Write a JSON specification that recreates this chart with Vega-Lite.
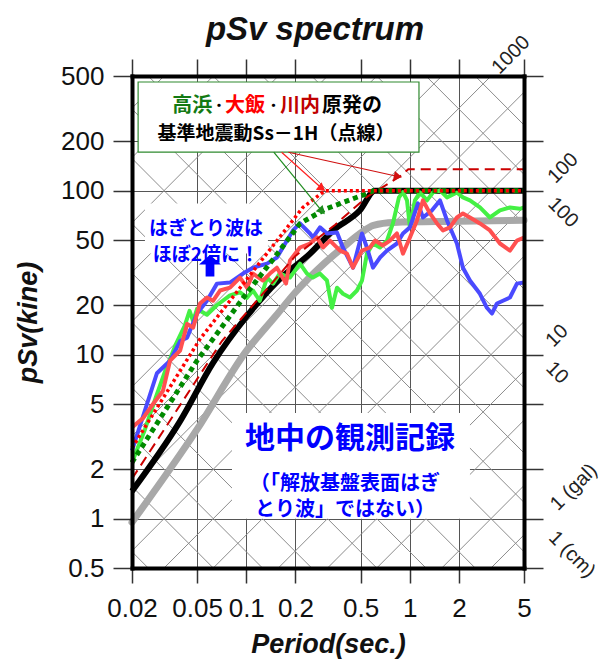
{
  "$schema": "https://vega.github.io/schema/vega-lite/v6.json",
  "width": 392,
  "height": 492,
  "autosize": {"type": "none"},
  "padding": {"left": 132, "top": 76, "right": 88, "bottom": 93},
  "background": "white",
  "title": {
    "text": "pSv spectrum",
    "font": "Liberation Sans",
    "fontSize": 33,
    "fontWeight": "bold",
    "fontStyle": "italic",
    "color": "#111111",
    "anchor": "middle",
    "dx": -13,
    "offset": -15
  },
  "config": {
    "view": {"stroke": null},
    "axis": {"labelFont": "Liberation Sans", "titleFont": "Liberation Sans"}
  },
  "datasets": {
    "diagonals": [
      {"family": "cm", "level": 0.002, "T1": 0.01, "Sv1": 1.2566, "T2": 10, "Sv2": 0.0012566},
      {"family": "cm", "level": 0.005, "T1": 0.01, "Sv1": 3.1416, "T2": 10, "Sv2": 0.0031416},
      {"family": "cm", "level": 0.01, "T1": 0.01, "Sv1": 6.2832, "T2": 10, "Sv2": 0.0062832},
      {"family": "cm", "level": 0.02, "T1": 0.01, "Sv1": 12.566, "T2": 10, "Sv2": 0.012566},
      {"family": "cm", "level": 0.05, "T1": 0.01, "Sv1": 31.416, "T2": 10, "Sv2": 0.031416},
      {"family": "cm", "level": 0.1, "T1": 0.01, "Sv1": 62.832, "T2": 10, "Sv2": 0.062832},
      {"family": "cm", "level": 0.2, "T1": 0.01, "Sv1": 125.66, "T2": 10, "Sv2": 0.12566},
      {"family": "cm", "level": 0.5, "T1": 0.01, "Sv1": 314.16, "T2": 10, "Sv2": 0.31416},
      {"family": "cm", "level": 1, "T1": 0.01, "Sv1": 628.32, "T2": 10, "Sv2": 0.62832},
      {"family": "cm", "level": 2, "T1": 0.01, "Sv1": 1256.6, "T2": 10, "Sv2": 1.2566},
      {"family": "cm", "level": 5, "T1": 0.01, "Sv1": 3141.6, "T2": 10, "Sv2": 3.1416},
      {"family": "cm", "level": 10, "T1": 0.01, "Sv1": 6283.2, "T2": 10, "Sv2": 6.2832},
      {"family": "cm", "level": 20, "T1": 0.01, "Sv1": 12566, "T2": 10, "Sv2": 12.566},
      {"family": "cm", "level": 50, "T1": 0.01, "Sv1": 31416, "T2": 10, "Sv2": 31.416},
      {"family": "cm", "level": 100, "T1": 0.01, "Sv1": 62832, "T2": 10, "Sv2": 62.832},
      {"family": "cm", "level": 200, "T1": 0.01, "Sv1": 125664, "T2": 10, "Sv2": 125.66},
      {"family": "gal", "level": 1, "T1": 0.01, "Sv1": 0.0015915, "T2": 10, "Sv2": 1.5915},
      {"family": "gal", "level": 2, "T1": 0.01, "Sv1": 0.003183, "T2": 10, "Sv2": 3.183},
      {"family": "gal", "level": 5, "T1": 0.01, "Sv1": 0.0079577, "T2": 10, "Sv2": 7.9577},
      {"family": "gal", "level": 10, "T1": 0.01, "Sv1": 0.015915, "T2": 10, "Sv2": 15.915},
      {"family": "gal", "level": 20, "T1": 0.01, "Sv1": 0.03183, "T2": 10, "Sv2": 31.831},
      {"family": "gal", "level": 50, "T1": 0.01, "Sv1": 0.079577, "T2": 10, "Sv2": 79.577},
      {"family": "gal", "level": 100, "T1": 0.01, "Sv1": 0.15915, "T2": 10, "Sv2": 159.15},
      {"family": "gal", "level": 200, "T1": 0.01, "Sv1": 0.3183, "T2": 10, "Sv2": 318.31},
      {"family": "gal", "level": 500, "T1": 0.01, "Sv1": 0.79577, "T2": 10, "Sv2": 795.77},
      {"family": "gal", "level": 1000, "T1": 0.01, "Sv1": 1.5915, "T2": 10, "Sv2": 1591.5},
      {"family": "gal", "level": 2000, "T1": 0.01, "Sv1": 3.1831, "T2": 10, "Sv2": 3183.1},
      {"family": "gal", "level": 5000, "T1": 0.01, "Sv1": 7.9577, "T2": 10, "Sv2": 7957.7},
      {"family": "gal", "level": 10000, "T1": 0.01, "Sv1": 15.915, "T2": 10, "Sv2": 15915},
      {"family": "gal", "level": 20000, "T1": 0.01, "Sv1": 31.831, "T2": 10, "Sv2": 31831},
      {"family": "gal", "level": 50000, "T1": 0.01, "Sv1": 79.577, "T2": 10, "Sv2": 79577},
      {"family": "gal", "level": 100000, "T1": 0.01, "Sv1": 159.15, "T2": 10, "Sv2": 159155}
    ],
    "spectra": [
      {"series": "gray", "T": 0.02, "Sv": 0.95},
      {"series": "gray", "T": 0.05, "Sv": 3.5},
      {"series": "gray", "T": 0.1, "Sv": 10.5},
      {"series": "gray", "T": 0.15, "Sv": 17},
      {"series": "gray", "T": 0.2, "Sv": 24},
      {"series": "gray", "T": 0.3, "Sv": 36},
      {"series": "gray", "T": 0.4, "Sv": 46},
      {"series": "gray", "T": 0.5, "Sv": 55},
      {"series": "gray", "T": 0.6, "Sv": 61.5},
      {"series": "gray", "T": 0.8, "Sv": 64},
      {"series": "gray", "T": 2, "Sv": 65},
      {"series": "gray", "T": 5, "Sv": 66},
      {"series": "black", "T": 0.02, "Sv": 1.47},
      {"series": "black", "T": 0.0394, "Sv": 3.93},
      {"series": "black", "T": 0.0626, "Sv": 8.9},
      {"series": "black", "T": 0.101, "Sv": 17.2},
      {"series": "black", "T": 0.154, "Sv": 27.8},
      {"series": "black", "T": 0.2454, "Sv": 41.3},
      {"series": "black", "T": 0.339, "Sv": 57.2},
      {"series": "black", "T": 0.496, "Sv": 75.8},
      {"series": "black", "T": 0.613, "Sv": 100},
      {"series": "black", "T": 5, "Sv": 100},
      {"series": "green", "T": 0.02, "Sv": 2.2},
      {"series": "green", "T": 0.024, "Sv": 3.5},
      {"series": "green", "T": 0.028, "Sv": 5.5},
      {"series": "green", "T": 0.032, "Sv": 8},
      {"series": "green", "T": 0.037, "Sv": 11.5},
      {"series": "green", "T": 0.042, "Sv": 15},
      {"series": "green", "T": 0.045, "Sv": 18.5},
      {"series": "green", "T": 0.0473, "Sv": 16},
      {"series": "green", "T": 0.05, "Sv": 19},
      {"series": "green", "T": 0.0575, "Sv": 17.5},
      {"series": "green", "T": 0.066, "Sv": 20},
      {"series": "green", "T": 0.0795, "Sv": 23},
      {"series": "green", "T": 0.0916, "Sv": 24},
      {"series": "green", "T": 0.101, "Sv": 22.2},
      {"series": "green", "T": 0.11, "Sv": 24.6},
      {"series": "green", "T": 0.121, "Sv": 21.3},
      {"series": "green", "T": 0.134, "Sv": 29.5},
      {"series": "green", "T": 0.146, "Sv": 27.1},
      {"series": "green", "T": 0.16, "Sv": 31.2},
      {"series": "green", "T": 0.185, "Sv": 29.5},
      {"series": "green", "T": 0.2131, "Sv": 35.9},
      {"series": "green", "T": 0.2352, "Sv": 31.2},
      {"series": "green", "T": 0.2558, "Sv": 29.5},
      {"series": "green", "T": 0.2824, "Sv": 31.2},
      {"series": "green", "T": 0.3116, "Sv": 28.3},
      {"series": "green", "T": 0.3345, "Sv": 19.3},
      {"series": "green", "T": 0.3589, "Sv": 25.6},
      {"series": "green", "T": 0.3905, "Sv": 23.5},
      {"series": "green", "T": 0.4309, "Sv": 22.3},
      {"series": "green", "T": 0.4755, "Sv": 24.6},
      {"series": "green", "T": 0.5103, "Sv": 28.3},
      {"series": "green", "T": 0.5476, "Sv": 41.3},
      {"series": "green", "T": 0.5958, "Sv": 47.6},
      {"series": "green", "T": 0.6575, "Sv": 45},
      {"series": "green", "T": 0.7256, "Sv": 49.6},
      {"series": "green", "T": 0.789, "Sv": 63.1},
      {"series": "green", "T": 0.859, "Sv": 91},
      {"series": "green", "T": 0.909, "Sv": 98},
      {"series": "green", "T": 0.962, "Sv": 87.2},
      {"series": "green", "T": 1.003, "Sv": 59.7},
      {"series": "green", "T": 1.076, "Sv": 87.2},
      {"series": "green", "T": 1.155, "Sv": 97.5},
      {"series": "green", "T": 1.275, "Sv": 87.2},
      {"series": "green", "T": 1.387, "Sv": 97.5},
      {"series": "green", "T": 1.531, "Sv": 100.4},
      {"series": "green", "T": 1.69, "Sv": 91},
      {"series": "green", "T": 1.944, "Sv": 97.5},
      {"series": "green", "T": 2.115, "Sv": 91},
      {"series": "green", "T": 2.335, "Sv": 87.2},
      {"series": "green", "T": 2.688, "Sv": 79},
      {"series": "green", "T": 3.095, "Sv": 68.6},
      {"series": "green", "T": 3.563, "Sv": 75.8},
      {"series": "green", "T": 4.102, "Sv": 79},
      {"series": "green", "T": 4.722, "Sv": 77.5},
      {"series": "green", "T": 5, "Sv": 79},
      {"series": "blue", "T": 0.02, "Sv": 2.6},
      {"series": "blue", "T": 0.0284, "Sv": 7.7},
      {"series": "blue", "T": 0.0342, "Sv": 9.2},
      {"series": "blue", "T": 0.0394, "Sv": 12.1},
      {"series": "blue", "T": 0.0435, "Sv": 12.7},
      {"series": "blue", "T": 0.05, "Sv": 17.8},
      {"series": "blue", "T": 0.0575, "Sv": 21.3},
      {"series": "blue", "T": 0.0662, "Sv": 27.1},
      {"series": "blue", "T": 0.0795, "Sv": 27.5},
      {"series": "blue", "T": 0.0955, "Sv": 31.2},
      {"series": "blue", "T": 0.11, "Sv": 33.9},
      {"series": "blue", "T": 0.134, "Sv": 35.9},
      {"series": "blue", "T": 0.154, "Sv": 39.1},
      {"series": "blue", "T": 0.1775, "Sv": 49.6},
      {"series": "blue", "T": 0.193, "Sv": 57.2},
      {"series": "blue", "T": 0.213, "Sv": 63.1},
      {"series": "blue", "T": 0.2454, "Sv": 54.8},
      {"series": "blue", "T": 0.256, "Sv": 51.8},
      {"series": "blue", "T": 0.2824, "Sv": 59.7},
      {"series": "blue", "T": 0.3116, "Sv": 54.8},
      {"series": "blue", "T": 0.359, "Sv": 55.6},
      {"series": "blue", "T": 0.39, "Sv": 45},
      {"series": "blue", "T": 0.45, "Sv": 33.9},
      {"series": "blue", "T": 0.51, "Sv": 54.8},
      {"series": "blue", "T": 0.547, "Sv": 45},
      {"series": "blue", "T": 0.596, "Sv": 33.9},
      {"series": "blue", "T": 0.6575, "Sv": 39.1},
      {"series": "blue", "T": 0.7256, "Sv": 43.1},
      {"series": "blue", "T": 0.835, "Sv": 47.6},
      {"series": "blue", "T": 0.909, "Sv": 54.8},
      {"series": "blue", "T": 1.003, "Sv": 59.7},
      {"series": "blue", "T": 1.122, "Sv": 83.6},
      {"series": "blue", "T": 1.205, "Sv": 68.6},
      {"series": "blue", "T": 1.368, "Sv": 75.8},
      {"series": "blue", "T": 1.531, "Sv": 87.2},
      {"series": "blue", "T": 1.69, "Sv": 65.8},
      {"series": "blue", "T": 1.944, "Sv": 47.6},
      {"series": "blue", "T": 2.115, "Sv": 33.9},
      {"series": "blue", "T": 2.335, "Sv": 28.3},
      {"series": "blue", "T": 2.688, "Sv": 23.5},
      {"series": "blue", "T": 2.966, "Sv": 19.3},
      {"series": "blue", "T": 3.183, "Sv": 17.8},
      {"series": "blue", "T": 3.415, "Sv": 20.5},
      {"series": "blue", "T": 3.717, "Sv": 21.3},
      {"series": "blue", "T": 4.102, "Sv": 22.3},
      {"series": "blue", "T": 4.527, "Sv": 27.1},
      {"series": "blue", "T": 5, "Sv": 27.5},
      {"series": "red", "T": 0.02, "Sv": 3.6},
      {"series": "red", "T": 0.0234, "Sv": 4.1},
      {"series": "red", "T": 0.0269, "Sv": 5},
      {"series": "red", "T": 0.0309, "Sv": 6},
      {"series": "red", "T": 0.0342, "Sv": 9.2},
      {"series": "red", "T": 0.0394, "Sv": 10.6},
      {"series": "red", "T": 0.0435, "Sv": 15.4},
      {"series": "red", "T": 0.0473, "Sv": 14.6},
      {"series": "red", "T": 0.0521, "Sv": 20.5},
      {"series": "red", "T": 0.0575, "Sv": 22.3},
      {"series": "red", "T": 0.0626, "Sv": 21.3},
      {"series": "red", "T": 0.0691, "Sv": 24.6},
      {"series": "red", "T": 0.0795, "Sv": 25.6},
      {"series": "red", "T": 0.0916, "Sv": 29.5},
      {"series": "red", "T": 0.101, "Sv": 25.6},
      {"series": "red", "T": 0.11, "Sv": 31.2},
      {"series": "red", "T": 0.1266, "Sv": 28.3},
      {"series": "red", "T": 0.1396, "Sv": 31.2},
      {"series": "red", "T": 0.154, "Sv": 33.9},
      {"series": "red", "T": 0.175, "Sv": 27.1},
      {"series": "red", "T": 0.1851, "Sv": 37.5},
      {"series": "red", "T": 0.2131, "Sv": 45},
      {"series": "red", "T": 0.2454, "Sv": 47.6},
      {"series": "red", "T": 0.2708, "Sv": 51.8},
      {"series": "red", "T": 0.2946, "Sv": 45},
      {"series": "red", "T": 0.3252, "Sv": 49.6},
      {"series": "red", "T": 0.3744, "Sv": 43.1},
      {"series": "red", "T": 0.413, "Sv": 41.3},
      {"series": "red", "T": 0.4495, "Sv": 33.9},
      {"series": "red", "T": 0.5103, "Sv": 43.1},
      {"series": "red", "T": 0.5712, "Sv": 45},
      {"series": "red", "T": 0.6128, "Sv": 49.6},
      {"series": "red", "T": 0.686, "Sv": 46.3},
      {"series": "red", "T": 0.7568, "Sv": 49.6},
      {"series": "red", "T": 0.835, "Sv": 54.8},
      {"series": "red", "T": 0.8713, "Sv": 47.6},
      {"series": "red", "T": 0.909, "Sv": 41.3},
      {"series": "red", "T": 1.003, "Sv": 51.8},
      {"series": "red", "T": 1.107, "Sv": 65.8},
      {"series": "red", "T": 1.205, "Sv": 87.2},
      {"series": "red", "T": 1.33, "Sv": 72.6},
      {"series": "red", "T": 1.468, "Sv": 63.1},
      {"series": "red", "T": 1.597, "Sv": 57.2},
      {"series": "red", "T": 1.762, "Sv": 59.7},
      {"series": "red", "T": 1.944, "Sv": 68.6},
      {"series": "red", "T": 2.115, "Sv": 72.6},
      {"series": "red", "T": 2.335, "Sv": 68.6},
      {"series": "red", "T": 2.688, "Sv": 63.1},
      {"series": "red", "T": 3.095, "Sv": 57.2},
      {"series": "red", "T": 3.563, "Sv": 47.6},
      {"series": "red", "T": 4.102, "Sv": 43.1},
      {"series": "red", "T": 4.527, "Sv": 49.6},
      {"series": "red", "T": 5, "Sv": 51.8}
    ],
    "design": [
      {"site": "Sendai", "T": 0.02, "Sv": 1.75},
      {"site": "Sendai", "T": 0.071, "Sv": 12.1},
      {"site": "Sendai", "T": 0.2, "Sv": 40},
      {"site": "Sendai", "T": 0.35, "Sv": 62},
      {"site": "Sendai", "T": 0.55, "Sv": 92},
      {"site": "Sendai", "T": 0.87, "Sv": 122},
      {"site": "Sendai", "T": 0.98, "Sv": 135},
      {"site": "Sendai", "T": 5, "Sv": 135},
      {"site": "Takahama", "T": 0.02, "Sv": 2.2},
      {"site": "Takahama", "T": 0.05, "Sv": 9.2},
      {"site": "Takahama", "T": 0.1, "Sv": 23.5},
      {"site": "Takahama", "T": 0.15, "Sv": 39.5},
      {"site": "Takahama", "T": 0.213, "Sv": 63},
      {"site": "Takahama", "T": 0.303, "Sv": 77},
      {"site": "Takahama", "T": 0.547, "Sv": 96},
      {"site": "Takahama", "T": 0.6, "Sv": 100},
      {"site": "Takahama", "T": 5, "Sv": 100},
      {"site": "Ohi", "T": 0.02, "Sv": 2.7},
      {"site": "Ohi", "T": 0.052, "Sv": 12.4},
      {"site": "Ohi", "T": 0.222, "Sv": 79},
      {"site": "Ohi", "T": 0.303, "Sv": 100},
      {"site": "Ohi", "T": 5, "Sv": 100}
    ],
    "panels": [
      {"panel": "legend", "T1": 0.0218, "Sv1": 459.6, "T2": 1.139, "Sv2": 171.5},
      {"panel": "note", "T1": 0.0818, "Sv1": 4.4, "T2": 2.335, "Sv2": 1.0},
      {"panel": "callout", "T1": 0.024, "Sv1": 83.6, "T2": 0.1357, "Sv2": 41.3}
    ],
    "pointers": [
      {"site": "Takahama", "T1": 0.1473, "Sv1": 171.5, "T2": 0.2905, "Sv2": 75},
      {"site": "Ohi", "T1": 0.1645, "Sv1": 171.5, "T2": 0.2905, "Sv2": 103},
      {"site": "Sendai", "T1": 0.181, "Sv1": 171.5, "T2": 0.847, "Sv2": 122}
    ],
    "siteWords": [
      {"text": "高浜", "tone": "Takahama", "T": 0.0352, "Sv": 330},
      {"text": "大飯", "tone": "Ohi", "T": 0.0741, "Sv": 330},
      {"text": "川内", "tone": "Sendai", "T": 0.1608, "Sv": 330},
      {"text": "原発の", "tone": "plain", "T": 0.2905, "Sv": 330}
    ],
    "siteDots": [
      {"text": "・", "T": 0.0681, "Sv": 330},
      {"text": "・", "T": 0.1467, "Sv": 330}
    ],
    "scaleLabels": [
      {"text": "1000", "family": "gal", "T": 4.16, "Sv": 672},
      {"text": "100", "family": "gal", "T": 8.66, "Sv": 136.9},
      {"text": "100", "family": "cm", "T": 8.66, "Sv": 73.6},
      {"text": "10", "family": "gal", "T": 7.96, "Sv": 13.03},
      {"text": "10", "family": "cm", "T": 7.96, "Sv": 7.74},
      {"text": "1 (gal)", "family": "gal", "T": 10.1, "Sv": 1.553},
      {"text": "1 (cm)", "family": "cm", "T": 9.83, "Sv": 0.605}
    ]
  },
  "resolve": {"axis": {"x": "independent", "y": "independent"}, "scale": {"color": "independent"}},
  "layer": [
    {
      "data": {"name": "diagonals"},
      "mark": {"type": "rule", "clip": true, "color": "#8c8c8c", "strokeWidth": 1},
      "encoding": {
        "x": {"field": "T1", "type": "quantitative",
          "scale": {"type": "log", "domain": [0.02, 5], "nice": false},
          "axis": {"orient": "bottom", "values": [0.02, 0.05, 0.1, 0.2, 0.5, 1, 2, 5], "grid": true, "gridColor": "#555555", "gridWidth": 1, "domain": false, "ticks": false, "labels": false, "title": null, "zindex": 0}},
        "y": {"field": "Sv1", "type": "quantitative",
          "scale": {"type": "log", "domain": [0.5, 500], "nice": false},
          "axis": {"orient": "left", "values": [0.5, 1, 2, 5, 10, 20, 50, 100, 200, 500], "grid": true, "gridColor": "#555555", "gridWidth": 1, "domain": false, "ticks": false, "labels": false, "title": null, "zindex": 0}},
        "x2": {"field": "T2"},
        "y2": {"field": "Sv2"}
      }
    },
    {
      "data": {"name": "panels"},
      "transform": [{"filter": "datum.panel === 'legend'"}],
      "mark": {"type": "rect", "fill": "white", "stroke": "#2f8a2f", "strokeWidth": 1.2},
      "encoding": {
        "x": {"field": "T1", "type": "quantitative", "scale": {"type": "log", "domain": [0.02, 5], "nice": false}, "axis": null},
        "x2": {"field": "T2"},
        "y": {"field": "Sv1", "type": "quantitative", "scale": {"type": "log", "domain": [0.5, 500], "nice": false}, "axis": null},
        "y2": {"field": "Sv2"}
      }
    },
    {
      "data": {"name": "panels"},
      "transform": [{"filter": "datum.panel !== 'legend'"}],
      "mark": {"type": "rect", "fill": "white"},
      "encoding": {
        "x": {"field": "T1", "type": "quantitative", "scale": {"type": "log", "domain": [0.02, 5], "nice": false}, "axis": null},
        "x2": {"field": "T2"},
        "y": {"field": "Sv1", "type": "quantitative", "scale": {"type": "log", "domain": [0.5, 500], "nice": false}, "axis": null},
        "y2": {"field": "Sv2"}
      }
    },
    {
      "data": {"name": "spectra"},
      "transform": [{"filter": "datum.series === 'gray'"}],
      "mark": {"type": "line", "color": "#a8a8a8", "strokeWidth": 7, "strokeJoin": "round", "strokeCap": "round", "interpolate": "monotone"},
      "encoding": {
        "x": {"field": "T", "type": "quantitative", "scale": {"type": "log", "domain": [0.02, 5], "nice": false},
          "axis": {"orient": "bottom", "values": [0.02, 0.05, 0.1, 0.2, 0.5, 1, 2, 5], "format": "~g", "grid": false, "domain": true, "domainColor": "#000000", "domainWidth": 4, "domainCap": "square", "ticks": true, "tickSize": 15, "tickWidth": 1.5, "tickColor": "#333333", "labelFontSize": 26, "labelColor": "#111111", "labelPadding": 12, "labelOverlap": false, "labelFlush": false, "labelBound": false, "title": "Period(sec.)", "titleFontSize": 27, "titleFontWeight": "bold", "titleFontStyle": "italic", "titleColor": "#111111", "titlePadding": 10, "zindex": 1}},
        "y": {"field": "Sv", "type": "quantitative", "scale": {"type": "log", "domain": [0.5, 500], "nice": false},
          "axis": {"orient": "left", "values": [0.5, 1, 2, 5, 10, 20, 50, 100, 200, 500], "format": "~g", "grid": false, "domain": true, "domainColor": "#000000", "domainWidth": 4, "domainCap": "square", "ticks": true, "tickSize": 19, "tickWidth": 1.5, "tickColor": "#333333", "labelFontSize": 26, "labelColor": "#111111", "labelPadding": 9, "labelOverlap": false, "labelFlush": false, "labelBound": false, "title": "pSv(kine)", "titleFontSize": 27, "titleFontWeight": "bold", "titleFontStyle": "italic", "titleColor": "#111111", "titlePadding": 18, "zindex": 1}}
      }
    },
    {
      "data": {"name": "spectra"},
      "transform": [{"filter": "datum.series === 'black'"}],
      "mark": {"type": "line", "color": "#000000", "strokeWidth": 6, "strokeJoin": "round", "interpolate": "monotone"},
      "encoding": {
        "x": {"field": "T", "type": "quantitative", "scale": {"type": "log", "domain": [0.02, 5], "nice": false},
          "axis": {"orient": "top", "values": [0.02, 0.05, 0.1, 0.2, 0.5, 1, 2, 5], "grid": false, "domain": true, "domainColor": "#000000", "domainWidth": 4, "domainCap": "square", "ticks": true, "tickSize": 17, "tickWidth": 1.5, "tickColor": "#333333", "labels": false, "title": null, "zindex": 1}},
        "y": {"field": "Sv", "type": "quantitative", "scale": {"type": "log", "domain": [0.5, 500], "nice": false},
          "axis": {"orient": "right", "values": [0.5, 1, 2, 5, 10, 20, 50, 100, 200, 500], "grid": false, "domain": true, "domainColor": "#000000", "domainWidth": 4, "domainCap": "square", "ticks": true, "tickSize": 19, "tickWidth": 1.5, "tickColor": "#333333", "labels": false, "title": null, "zindex": 1}}
      }
    },
    {
      "data": {"name": "spectra"},
      "transform": [{"filter": "datum.series === 'green'"}],
      "mark": {"type": "line", "color": "#44f044", "strokeWidth": 4, "strokeJoin": "round"},
      "encoding": {
        "x": {"field": "T", "type": "quantitative", "scale": {"type": "log", "domain": [0.02, 5], "nice": false}, "axis": null},
        "y": {"field": "Sv", "type": "quantitative", "scale": {"type": "log", "domain": [0.5, 500], "nice": false}, "axis": null}
      }
    },
    {
      "data": {"name": "spectra"},
      "transform": [{"filter": "datum.series === 'blue'"}],
      "mark": {"type": "line", "color": "#4a4aff", "strokeWidth": 4, "strokeJoin": "round"},
      "encoding": {
        "x": {"field": "T", "type": "quantitative", "scale": {"type": "log", "domain": [0.02, 5], "nice": false}, "axis": null},
        "y": {"field": "Sv", "type": "quantitative", "scale": {"type": "log", "domain": [0.5, 500], "nice": false}, "axis": null}
      }
    },
    {
      "data": {"name": "spectra"},
      "transform": [{"filter": "datum.series === 'red'"}],
      "mark": {"type": "line", "color": "#ff5050", "strokeWidth": 4, "strokeJoin": "round"},
      "encoding": {
        "x": {"field": "T", "type": "quantitative", "scale": {"type": "log", "domain": [0.02, 5], "nice": false}, "axis": null},
        "y": {"field": "Sv", "type": "quantitative", "scale": {"type": "log", "domain": [0.5, 500], "nice": false}, "axis": null}
      }
    },
    {
      "data": {"name": "design"},
      "transform": [{"filter": "datum.site === 'Sendai'"}],
      "mark": {"type": "line", "color": "#cc0000", "strokeWidth": 2, "strokeDash": [10, 6]},
      "encoding": {
        "x": {"field": "T", "type": "quantitative", "scale": {"type": "log", "domain": [0.02, 5], "nice": false}, "axis": null},
        "y": {"field": "Sv", "type": "quantitative", "scale": {"type": "log", "domain": [0.5, 500], "nice": false}, "axis": null}
      }
    },
    {
      "data": {"name": "design"},
      "transform": [{"filter": "datum.site === 'Takahama'"}],
      "mark": {"type": "line", "color": "#008a00", "strokeWidth": 5, "strokeDash": [5, 4]},
      "encoding": {
        "x": {"field": "T", "type": "quantitative", "scale": {"type": "log", "domain": [0.02, 5], "nice": false}, "axis": null},
        "y": {"field": "Sv", "type": "quantitative", "scale": {"type": "log", "domain": [0.5, 500], "nice": false}, "axis": null}
      }
    },
    {
      "data": {"name": "design"},
      "transform": [{"filter": "datum.site === 'Ohi'"}],
      "mark": {"type": "line", "color": "#ff0000", "strokeWidth": 3.5, "strokeDash": [3, 3]},
      "encoding": {
        "x": {"field": "T", "type": "quantitative", "scale": {"type": "log", "domain": [0.02, 5], "nice": false}, "axis": null},
        "y": {"field": "Sv", "type": "quantitative", "scale": {"type": "log", "domain": [0.5, 500], "nice": false}, "axis": null}
      }
    },
    {
      "data": {"name": "pointers"},
      "mark": {"type": "rule", "strokeWidth": 1.2},
      "encoding": {
        "x": {"field": "T1", "type": "quantitative", "scale": {"type": "log", "domain": [0.02, 5], "nice": false}, "axis": null},
        "y": {"field": "Sv1", "type": "quantitative", "scale": {"type": "log", "domain": [0.5, 500], "nice": false}, "axis": null},
        "x2": {"field": "T2"},
        "y2": {"field": "Sv2"},
        "color": {"field": "site", "type": "nominal", "scale": {"domain": ["Takahama", "Ohi", "Sendai"], "range": ["#1e8c1e", "#ff2020", "#d01010"]}, "legend": null}
      }
    },
    {
      "data": {"name": "pointers"},
      "transform": [{"filter": "datum.site === 'Takahama'"}],
      "mark": {"type": "point", "shape": "triangle-right", "filled": true, "opacity": 1, "size": 90, "angle": 47, "color": "#1e8c1e"},
      "encoding": {
        "x": {"field": "T2", "type": "quantitative", "scale": {"type": "log", "domain": [0.02, 5], "nice": false}, "axis": null},
        "y": {"field": "Sv2", "type": "quantitative", "scale": {"type": "log", "domain": [0.5, 500], "nice": false}, "axis": null}
      }
    },
    {
      "data": {"name": "pointers"},
      "transform": [{"filter": "datum.site === 'Ohi'"}],
      "mark": {"type": "point", "shape": "triangle-right", "filled": true, "opacity": 1, "size": 90, "angle": 37, "color": "#ff2020"},
      "encoding": {
        "x": {"field": "T2", "type": "quantitative", "scale": {"type": "log", "domain": [0.02, 5], "nice": false}, "axis": null},
        "y": {"field": "Sv2", "type": "quantitative", "scale": {"type": "log", "domain": [0.5, 500], "nice": false}, "axis": null}
      }
    },
    {
      "data": {"name": "pointers"},
      "transform": [{"filter": "datum.site === 'Sendai'"}],
      "mark": {"type": "point", "shape": "triangle-right", "filled": true, "opacity": 1, "size": 90, "angle": 12, "color": "#d01010"},
      "encoding": {
        "x": {"field": "T2", "type": "quantitative", "scale": {"type": "log", "domain": [0.02, 5], "nice": false}, "axis": null},
        "y": {"field": "Sv2", "type": "quantitative", "scale": {"type": "log", "domain": [0.5, 500], "nice": false}, "axis": null}
      }
    },
    {
      "data": {"name": "siteWords"},
      "mark": {"type": "text", "font": "Noto Sans CJK JP", "fontSize": 20, "fontWeight": "bold", "align": "left", "baseline": "middle"},
      "encoding": {
        "x": {"field": "T", "type": "quantitative", "scale": {"type": "log", "domain": [0.02, 5], "nice": false}, "axis": null},
        "y": {"field": "Sv", "type": "quantitative", "scale": {"type": "log", "domain": [0.5, 500], "nice": false}, "axis": null},
        "text": {"field": "text"},
        "color": {"field": "tone", "type": "nominal", "scale": {"domain": ["Takahama", "Ohi", "Sendai", "plain"], "range": ["#137a13", "#ff0000", "#c00000", "#000000"]}, "legend": null}
      }
    },
    {
      "data": {"name": "siteDots"},
      "mark": {"type": "text", "font": "Noto Sans CJK JP", "fontSize": 13, "fontWeight": "bold", "align": "center", "baseline": "middle", "color": "#000000"},
      "encoding": {
        "x": {"field": "T", "type": "quantitative", "scale": {"type": "log", "domain": [0.02, 5], "nice": false}, "axis": null},
        "y": {"field": "Sv", "type": "quantitative", "scale": {"type": "log", "domain": [0.5, 500], "nice": false}, "axis": null},
        "text": {"field": "text"}
      }
    },
    {
      "data": {"values": [{}]},
      "mark": {"type": "text", "font": "Noto Sans CJK JP", "fontSize": 19, "fontWeight": "bold", "align": "center", "baseline": "middle", "color": "#000000", "text": "基準地震動Ss－1H（点線）"},
      "encoding": {
        "x": {"datum": 0.152, "type": "quantitative", "scale": {"type": "log", "domain": [0.02, 5], "nice": false}, "axis": null},
        "y": {"datum": 220, "type": "quantitative", "scale": {"type": "log", "domain": [0.5, 500], "nice": false}, "axis": null}
      }
    },
    {
      "data": {"values": [{}]},
      "mark": {"type": "text", "font": "Noto Sans CJK JP", "fontSize": 19, "fontWeight": "bold", "align": "center", "baseline": "middle", "color": "#0000ff", "lineHeight": 26, "text": ["はぎとり波は", "ほぼ2倍に！"]},
      "encoding": {
        "x": {"datum": 0.0567, "type": "quantitative", "scale": {"type": "log", "domain": [0.02, 5], "nice": false}, "axis": null},
        "y": {"datum": 58, "type": "quantitative", "scale": {"type": "log", "domain": [0.5, 500], "nice": false}, "axis": null}
      }
    },
    {
      "data": {"values": [{}]},
      "mark": {"type": "point", "filled": true, "color": "#0000ff", "opacity": 1, "size": 480, "shape": "M0,-1 L1,-0.1 L0.4,-0.1 L0.4,1 L-0.4,1 L-0.4,-0.1 L-1,-0.1 Z"},
      "encoding": {
        "x": {"datum": 0.06, "type": "quantitative", "scale": {"type": "log", "domain": [0.02, 5], "nice": false}, "axis": null},
        "y": {"datum": 34.9, "type": "quantitative", "scale": {"type": "log", "domain": [0.5, 500], "nice": false}, "axis": null}
      }
    },
    {
      "data": {"values": [{}]},
      "mark": {"type": "text", "font": "Noto Sans CJK JP", "fontSize": 30, "fontWeight": "bold", "align": "center", "baseline": "middle", "color": "#0000ff", "text": "地中の観測記録"},
      "encoding": {
        "x": {"datum": 0.4309, "type": "quantitative", "scale": {"type": "log", "domain": [0.02, 5], "nice": false}, "axis": null},
        "y": {"datum": 3.055, "type": "quantitative", "scale": {"type": "log", "domain": [0.5, 500], "nice": false}, "axis": null}
      }
    },
    {
      "data": {"values": [{}]},
      "mark": {"type": "text", "font": "Noto Sans CJK JP", "fontSize": 20, "fontWeight": "bold", "align": "center", "baseline": "middle", "color": "#0000ff", "lineHeight": 26, "text": ["（「解放基盤表面はぎ", "とり波」ではない）"]},
      "encoding": {
        "x": {"datum": 0.4016, "type": "quantitative", "scale": {"type": "log", "domain": [0.02, 5], "nice": false}, "axis": null},
        "y": {"datum": 1.62, "type": "quantitative", "scale": {"type": "log", "domain": [0.5, 500], "nice": false}, "axis": null}
      }
    },
    {
      "data": {"name": "scaleLabels"},
      "transform": [{"filter": "datum.family === 'gal'"}],
      "mark": {"type": "text", "font": "Liberation Sans", "fontSize": 20, "angle": -45, "align": "center", "baseline": "middle", "color": "#222222"},
      "encoding": {
        "x": {"field": "T", "type": "quantitative", "scale": {"type": "log", "domain": [0.02, 5], "nice": false}, "axis": null},
        "y": {"field": "Sv", "type": "quantitative", "scale": {"type": "log", "domain": [0.5, 500], "nice": false}, "axis": null},
        "text": {"field": "text"}
      }
    },
    {
      "data": {"name": "scaleLabels"},
      "transform": [{"filter": "datum.family === 'cm'"}],
      "mark": {"type": "text", "font": "Liberation Sans", "fontSize": 20, "angle": 45, "align": "center", "baseline": "middle", "color": "#222222"},
      "encoding": {
        "x": {"field": "T", "type": "quantitative", "scale": {"type": "log", "domain": [0.02, 5], "nice": false}, "axis": null},
        "y": {"field": "Sv", "type": "quantitative", "scale": {"type": "log", "domain": [0.5, 500], "nice": false}, "axis": null},
        "text": {"field": "text"}
      }
    }
  ]
}
